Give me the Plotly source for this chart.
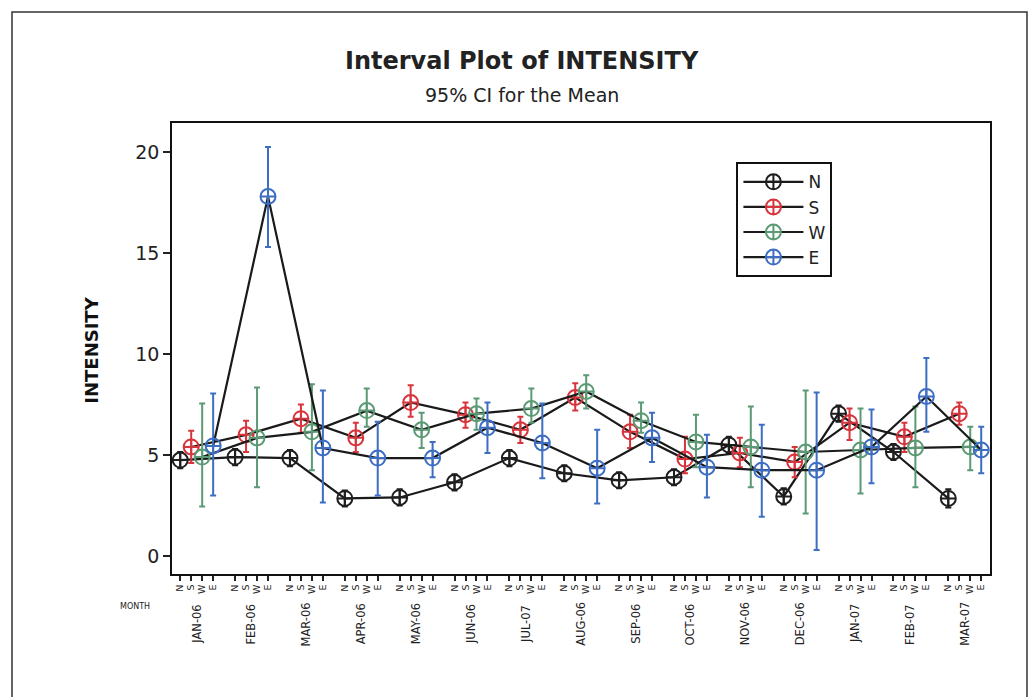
import plotly.graph_objects as go

months = ["JAN-06", "FEB-06", "MAR-06", "APR-06", "MAY-06", "JUN-06", "JUL-07", "AUG-06",
          "SEP-06", "OCT-06", "NOV-06", "DEC-06", "JAN-07", "FEB-07", "MAR-07"]
directions = ["N", "S", "W", "E"]

n_mean = [4.75, 4.9, 4.85, 2.85, 2.9, 3.65, 4.85, 4.1, 3.75, 3.9, 5.5, 2.95, 7.05, 5.15, 2.85]
n_lo = [4.35, 4.5, 4.45, 2.45, 2.5, 3.25, 4.45, 3.7, 3.35, 3.5, 5.1, 2.55, 6.65, 4.75, 2.4]
n_hi = [5.15, 5.3, 5.25, 3.25, 3.3, 4.05, 5.25, 4.5, 4.15, 4.3, 5.9, 3.35, 7.45, 5.55, 3.3]

s_mean = [5.4, 6.0, 6.8, 5.85, 7.6, 7.0, 6.25, 7.85, 6.15, 4.8, 5.1, 4.65, 6.6, 5.9, 7.05]
s_lo = [4.6, 5.15, 6.1, 5.15, 6.9, 6.35, 5.6, 7.2, 5.35, 4.1, 4.4, 3.9, 5.75, 5.15, 6.5]
s_hi = [6.2, 6.7, 7.5, 6.6, 8.45, 7.6, 6.9, 8.55, 7.0, 5.9, 5.85, 5.4, 7.3, 6.6, 7.6]

w_mean = [4.9, 5.85, 6.15, 7.2, 6.25, 7.05, 7.3, 8.15, 6.7, 5.65, 5.4, 5.15, 5.25, 5.35, 5.4]
w_lo = [2.45, 3.4, 4.25, 6.4, 5.35, 6.25, 6.6, 7.3, 6.1, 4.4, 3.4, 2.1, 3.1, 3.4, 4.25]
w_hi = [7.55, 8.35, 8.5, 8.3, 7.1, 7.8, 8.3, 8.95, 7.6, 7.0, 7.4, 8.2, 7.3, 7.4, 6.4]

e_mean = [5.45, 17.8, 5.35, 4.85, 4.85, 6.35, 5.6, 4.35, 5.85, 4.4, 4.25, 4.25, 5.4, 7.9, 5.25]
e_lo = [3.0, 15.3, 2.65, 3.0, 3.9, 5.1, 3.85, 2.6, 4.65, 2.9, 1.95, 0.3, 3.6, 6.15, 4.1]
e_hi = [8.05, 20.25, 8.2, 6.65, 5.65, 7.6, 7.55, 6.25, 7.1, 6.0, 6.5, 8.1, 7.25, 9.8, 6.4]

series = {
    "N": (n_mean, n_lo, n_hi, "#1e1e1e"),
    "S": (s_mean, s_lo, s_hi, "#d8343c"),
    "W": (w_mean, w_lo, w_hi, "#5b9a74"),
    "E": (e_mean, e_lo, e_hi, "#3d6ec4"),
}

SLOTS = 5  # 4 directions + 1 gap slot per month

fig = go.Figure()
for d_idx, d in enumerate(directions):
    mean, lo, hi, col = series[d]
    xs = [m * SLOTS + d_idx for m in range(len(months))]
    fig.add_trace(go.Scatter(
        x=xs, y=mean, name=d, mode="lines+markers",
        line=dict(color="#1a1a1a", width=2.2),
        marker=dict(symbol="circle-cross-open", size=15, color=col, line=dict(width=2, color=col)),
        error_y=dict(type="data", symmetric=False,
                     array=[h - v for h, v in zip(hi, mean)],
                     arrayminus=[v - l for v, l in zip(mean, lo)],
                     color=col, thickness=2, width=3),
    ))

tickvals = [m * SLOTS + d for m in range(len(months)) for d in range(len(directions))]
ticktext = [d for m in range(len(months)) for d in directions]

FONT = "DejaVu Sans"
annotations = [
    dict(text="<b>Interval Plot of INTENSITY</b>", x=0.428, y=1.137, xref="paper", yref="paper",
         showarrow=False, font=dict(family=FONT, size=24, color="#222"), xanchor="center", yanchor="middle"),
    dict(text="95% CI for the Mean", x=0.428, y=1.062, xref="paper", yref="paper",
         showarrow=False, font=dict(family=FONT, size=19, color="#222"), xanchor="center", yanchor="middle"),
    dict(text="<b>INTENSITY</b>", x=-0.098, y=0.497, xref="paper", yref="paper", textangle=-90,
         showarrow=False, font=dict(family=FONT, size=18, color="#111"), xanchor="center", yanchor="middle"),
    dict(text="MONTH", x=-0.045, y=-0.073, xref="paper", yref="paper",
         showarrow=False, font=dict(family=FONT, size=8, color="#222"), xanchor="center", yanchor="middle"),
]
for m, name in enumerate(months):
    annotations.append(dict(
        text=name, x=m * SLOTS + 1.5, y=-0.111, xref="x", yref="paper", textangle=-90,
        showarrow=False, font=dict(family=FONT, size=11.5, color="#222"),
        xanchor="center", yanchor="middle"))

shapes = [
    dict(type="rect", xref="paper", yref="paper", x0=-0.1956, x1=1.0452, y0=-0.35, y1=1.246,
         line=dict(color="#333", width=1.5), fillcolor="rgba(0,0,0,0)", layer="below"),
]

fig.update_layout(
    width=1035, height=697,
    margin=dict(l=172, r=45, t=123, b=123),
    paper_bgcolor="white", plot_bgcolor="white",
    font=dict(family=FONT, color="#222"),
    showlegend=True,
    legend=dict(x=0.69, y=0.913, xanchor="left", yanchor="top",
                bordercolor="#111", borderwidth=2, bgcolor="white",
                font=dict(family=FONT, size=17), itemwidth=60, tracegroupgap=2),
    xaxis=dict(range=[-0.75, 73.8], tickmode="array", tickvals=tickvals, ticktext=ticktext,
               tickangle=-90, tickfont=dict(family=FONT, size=9.5), ticks="outside", ticklen=5,
               tickwidth=1.5, tickcolor="#222", showgrid=False, zeroline=False,
               showline=True, linecolor="#111", linewidth=1.5, mirror=True),
    yaxis=dict(range=[-0.89, 21.44], tickvals=[0, 5, 10, 15, 20], ticks="outside", ticklen=7,
               tickwidth=1.5, tickcolor="#222", tickfont=dict(family=FONT, size=19),
               showgrid=False, zeroline=False, showline=True, linecolor="#111", linewidth=1.5, mirror=True),
    annotations=annotations,
    shapes=shapes,
)

fig.write_html("out.html")
